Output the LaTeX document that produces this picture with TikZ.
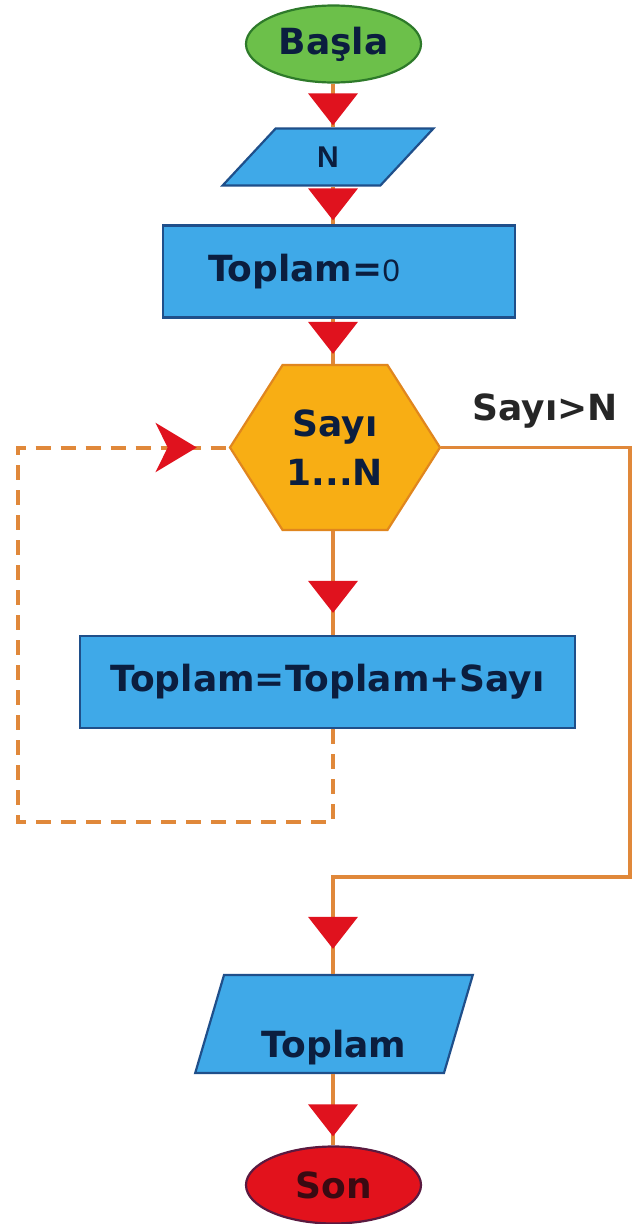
\documentclass[tikz,border=0pt]{standalone}
\usepackage{fontspec}
\setmainfont{DejaVu Sans}
\newfontfamily\thinfont{Liberation Sans}
\usetikzlibrary{arrows.meta,shapes.geometric,shapes.symbols,decorations.markings}

\definecolor{boxblue}{HTML}{3FA9E8}
\definecolor{boxedge}{HTML}{1F4F8A}
\definecolor{navy}{HTML}{0B1E3F}
\definecolor{startgreen}{HTML}{6CC04A}
\definecolor{startedge}{HTML}{2E7A2A}
\definecolor{hexorange}{HTML}{F8AE14}
\definecolor{hexedge}{HTML}{E0861E}
\definecolor{lineorange}{HTML}{E0883A}
\definecolor{tipred}{HTML}{E0121E}
\definecolor{endred}{HTML}{E2121C}
\definecolor{endedge}{HTML}{5A1A40}
\definecolor{endtext}{HTML}{3A0A12}

\tikzset{
  base/.style={draw, line width=2.2pt, inner sep=0pt, font=\bfseries\fontsize{36}{49}\selectfont, text=navy},
  term/.style={base, ellipse, minimum width=175pt, minimum height=77pt},
  procbox/.style={base, rectangle, fill=boxblue, draw=boxedge, minimum height=92pt},
  iobox/.style={base, trapezium, trapezium stretches=true, fill=boxblue, draw=boxedge},
  loophex/.style={base, signal, signal to=east and west, signal pointer angle=115,
    fill=hexorange, draw=hexedge, align=center, minimum width=210pt, minimum height=165pt},
  flow/.style={draw=lineorange, line width=3.8pt},
  backflow/.style={draw=lineorange, line width=4pt, dash pattern=on 15pt off 10pt},
  tipat/.style={postaction={decorate}, decoration={markings,
    mark=at position -#1 with {\arrow{Triangle[width=49pt,length=32pt,color=tipred]}}}},
  loopat/.style={postaction={decorate}, decoration={markings,
    mark=at position -#1 with {\arrow{Stealth[width=49pt,length=41pt,inset=12pt,color=tipred]}}}},
}

\begin{document}
\begin{tikzpicture}[x=1pt,y=-1pt]
  \path[use as bounding box, fill=white] (0,0) rectangle (633,1224);
  \coordinate (axis) at (333,0);

  % shapes, top to bottom
  \node[term, fill=startgreen, draw=startedge] (start) at (333.5,44) {Başla};
  \node[iobox, trapezium left angle=62, trapezium right angle=118,
    minimum width=211pt, minimum height=57pt] (n) at (328,157)
    {\thinfont\fontsize{30}{36}\selectfont N};
  \node[procbox, text width=262pt, inner xsep=45pt, align=left] (sum0) at (339,271.5)
    {Toplam={\thinfont\mdseries\fontsize{31}{36}\selectfont 0}};
  \node[loophex] (loop) at (335,447.5) {Sayı\\1...N};
  \node[procbox, minimum width=495pt] (add) at (327.5,682) {Toplam=Toplam+Sayı};
  \node[iobox, trapezium left angle=74, trapezium right angle=106,
    minimum width=278pt, minimum height=98pt, text height=66pt, text depth=0pt] (out) at (334,1024) {Toplam};
  \node[term, fill=endred, draw=endedge, text=endtext] (stop) at (333.5,1185) {Son};
  \node[font=\bfseries\fontsize{36}{44}\selectfont, text=black!85] (cond) at (545,411) {Sayı>N};

  % connectors
  \draw[flow, tipat=2pt] (axis |- start.south) -- (axis |- n.north);
  \draw[flow, tipat=4pt] (axis |- n.south) -- (axis |- sum0.north);
  \draw[flow, tipat=10pt] (axis |- sum0.south) -- (axis |- loop.north);
  \draw[flow, tipat=22pt] (axis |- loop.south) -- (axis |- add.north);
  \draw[backflow, loopat=32pt] (axis |- add.south) |- (18,822) |- (loop.west);
  \draw[flow, tipat=25pt] (loop.east) -| (630,877) -| (axis |- out.north);
  \draw[flow, tipat=9pt] (axis |- out.south) -- (axis |- stop.north);
\end{tikzpicture}
\end{document}
